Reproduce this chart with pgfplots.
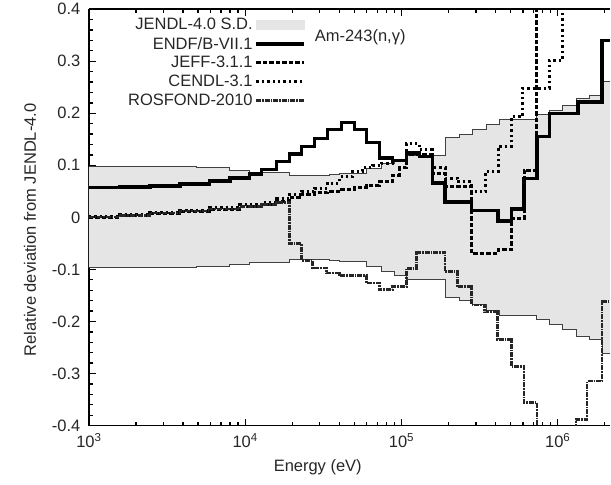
\documentclass[border=0pt]{standalone}
\usepackage{fontspec}
\setmainfont{Liberation Sans}
\usepackage{pgfplots}
\usepackage{pgfplotstable}
\pgfplotsset{compat=1.18}
\usepgfplotslibrary{fillbetween}
\usetikzlibrary{calc}

\pgfplotstableread{
E v
1000 0.097
4899 0.095
7962 0.091
10686 0.087
19250 0.080
34670 0.082
40160 0.085
59760 0.094
74510 0.104
90220 0.112
107600 0.119
191100 0.153
234800 0.160
284300 0.168
349300 0.179
423000 0.188
728700 0.197
882400 0.205
1069000 0.215
1313000 0.228
1590000 0.235
1925000 0.261
2166000 0.261
}\bandup
\pgfplotstableread{
E v
1000 -0.097
4899 -0.095
7962 -0.091
10686 -0.087
19250 -0.080
34670 -0.082
40160 -0.085
59760 -0.094
74510 -0.104
90220 -0.112
107600 -0.119
191100 -0.153
234800 -0.160
284300 -0.168
349300 -0.179
423000 -0.188
728700 -0.197
882400 -0.205
1069000 -0.215
1313000 -0.228
1590000 -0.235
1925000 -0.261
2166000 -0.261
}\bandlo
\pgfplotstableread{
E v
1000 0.057
1578 0.058
2454 0.060
3815 0.064
5933 0.070
8000 0.076
10686 0.083
12750 0.092
15900 0.107
19250 0.122
22960 0.136
27810 0.152
33670 0.169
41360 0.182
50080 0.169
59760 0.144
72340 0.114
87600 0.109
107600 0.124
130300 0.117
157800 0.066
190000 0.030
280000 0.013
415000 -0.007
504800 0.016
610000 0.075
735000 0.155
882400 0.200
1350000 0.222
1925000 0.340
2166000 0.340
}\endf
\pgfplotstableread{
E v
1000 0.000
1578 0.004
2454 0.008
3815 0.012
5933 0.016
9224 0.021
12750 0.025
15900 0.030
19250 0.038
22960 0.044
27810 0.047
33670 0.050
41360 0.053
50080 0.057
59760 0.061
72340 0.068
87600 0.081
97100 0.095
107600 0.120
130300 0.120
157800 0.085
190000 0.060
280000 -0.069
415000 -0.062
504800 -0.003
610000 0.091
735000 0.600
2166000 0.600
}\jeff
\pgfplotstableread{
E v
1000 0.002
1578 0.006
2454 0.010
3815 0.014
5933 0.019
9224 0.024
12750 0.029
15900 0.036
19250 0.043
22960 0.050
27810 0.056
33670 0.066
40160 0.078
48640 0.088
56350 0.096
65270 0.100
74510 0.104
87600 0.110
107600 0.142
130300 0.130
157800 0.095
190000 0.075
228000 0.068
280000 0.049
345000 0.088
415000 0.136
504800 0.193
593300 0.248
882400 0.302
1069000 0.600
2166000 0.600
}\cendl
\pgfplotstableread{
E v
1000 0.001
1578 0.004
2454 0.008
3815 0.012
5933 0.016
9224 0.021
12750 0.025
15900 0.029
19250 -0.050
22960 -0.083
27000 -0.097
33200 -0.107
40160 -0.112
59760 -0.126
72340 -0.139
87600 -0.133
107600 -0.098
124700 -0.067
190000 -0.104
228000 -0.133
280000 -0.168
339200 -0.181
410600 -0.235
504800 -0.286
610000 -0.356
735000 -0.450
1313000 -0.388
1543000 -0.314
1925000 -0.162
2166000 -0.162
}\rosfond

\begin{document}
\begin{tikzpicture}
\begin{axis}[
  name=ax,
  scale only axis, width=522pt, height=417pt,
  xmode=log, log basis x=10,
  xmin=1000, xmax=2166000, ymin=-0.4, ymax=0.4,
  axis x line*=box, axis y line*=left,
  axis line style={line width=1.6pt, black},
  tick align=inside,
  major tick length=7pt, minor tick length=4pt,
  every tick/.style={black, line width=1.3pt},
  xtick={1000,10000,100000,1000000},
  xticklabels={10\textsuperscript{3},10\textsuperscript{4},10\textsuperscript{5},10\textsuperscript{6}},
  minor xtick={2000,3000,4000,5000,6000,7000,8000,9000,20000,30000,40000,50000,60000,70000,80000,90000,200000,300000,400000,500000,600000,700000,800000,900000,2000000},
  ytick={-0.4,-0.3,-0.2,-0.1,0,0.1,0.2,0.3,0.4},
  yticklabels={-0.4,-0.3,-0.2,-0.1,0,0.1,0.2,0.3,0.4},
  minor y tick num=4,
  tick label style={font=\fontsize{16.5}{19}\selectfont, text=black!85},
  xticklabel style={yshift=-4pt},
  yticklabel style={xshift=-5pt},
  label style={font=\fontsize{16.5}{19}\selectfont, text=black!85},
  xlabel={Energy (eV)},
  ylabel={Relative deviation from JENDL-4.0},
  xlabel style={at={(axis description cs:0.439,-0.110)}, anchor=base},
  ylabel style={at={(axis description cs:-0.113,0.47)}, anchor=center, rotate=0},
  legend plot pos=right,
  legend cell align=right,
  legend style={draw=none, fill=none, inner sep=0pt, row sep=1.8pt,
    at={(axis description cs:0.417,0.983)}, anchor=north east,
    font=\fontsize{16.5}{18}\selectfont, text=black!85},
  legend image code/.code={\draw[#1] (0pt,0pt) -- (48pt,0pt);},
]
\addlegendimage{legend image code/.code={\fill[black!10] (0pt,-4.5pt) rectangle (48pt,4.5pt);}}
\addlegendentry{JENDL-4.0 S.D.}
\addplot[name path=up, const plot, draw=none, forget plot] table[x=E,y=v] {\bandup};
\addplot[name path=lo, const plot, draw=none, forget plot] table[x=E,y=v] {\bandlo};
\addplot[black!10, forget plot] fill between[of=up and lo];
\addplot[const plot, draw=black!75, line width=1pt, forget plot] table[x=E,y=v] {\bandup};
\addplot[const plot, draw=black!75, line width=1pt, forget plot] table[x=E,y=v] {\bandlo};

\addplot[const plot, black, line width=3.5pt] table[x=E,y=v] {\endf};
\addlegendentry{ENDF/B-VII.1}
\addplot[const plot, black, line width=3pt, dash pattern=on 4.5pt off 2pt] table[x=E,y=v] {\jeff};
\addlegendentry{JEFF-3.1.1}
\addplot[const plot, black, line width=3pt, dash pattern=on 2.4pt off 3pt] table[x=E,y=v] {\cendl};
\addlegendentry{CENDL-3.1}
\addplot[const plot, black!85, line width=2.5pt, dash pattern=on 5pt off 1pt on 1.5pt off 1pt] table[x=E,y=v] {\rosfond};
\addlegendentry{ROSFOND-2010}

\node[anchor=west, font=\fontsize{16.5}{19}\selectfont, text=black!85] at (axis cs:26500,0.346) {Am-243(n,γ)};
\end{axis}
\path ($(ax.south west)+(-89pt,-59pt)$) rectangle ($(ax.north east)+(0pt,9pt)$);
\end{tikzpicture}
\end{document}
